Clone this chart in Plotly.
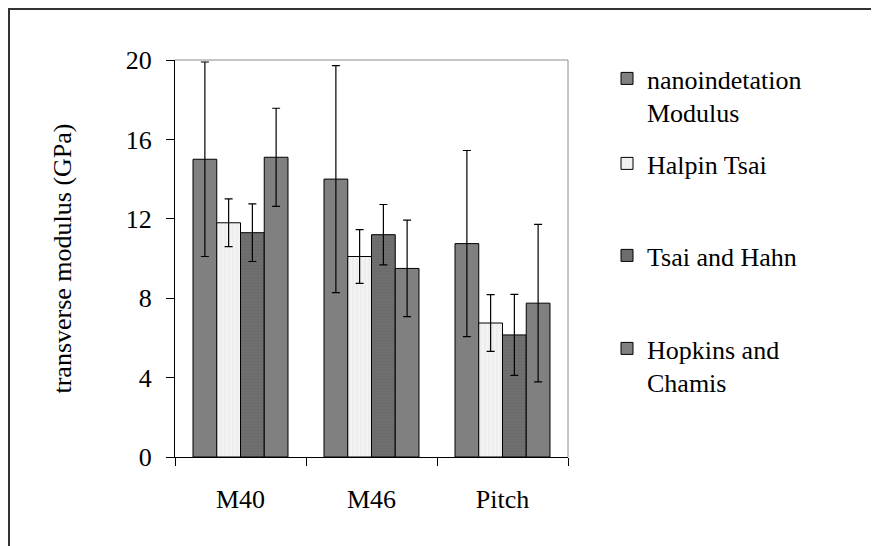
import plotly.graph_objects as go

categories = ["M40", "M46", "Pitch"]
series_names = ["nanoindetation<br>Modulus", "Halpin Tsai", "Tsai and Hahn", "Hopkins and<br>Chamis"]
nano_vals = [15.0, 14.0, 10.75]
nano_err = [4.9, 5.72, 4.69]
halpin_vals = [11.8, 10.1, 6.75]
halpin_err = [1.2, 1.35, 1.43]
tsai_vals = [11.3, 11.2, 6.15]
tsai_err = [1.45, 1.52, 2.04]
hopkins_vals = [15.1, 9.5, 7.75]
hopkins_err = [2.47, 2.43, 3.97]
y_ticks = [0, 4, 8, 12, 16, 20]

FONT = "Liberation Serif"
FS = 26

W, H = 879, 546
OFF = 8  # page body margin
L, R, T, B = 175, 568, 60, 457  # plot area in screen pixels
pw, ph = R - L, B - T


def px_x(x):
    return (x - L) / pw


def px_y(y):
    return (B - y) / ph


styles = [
    dict(color="#808080", pattern=None),
    dict(color="#f3f3f3", pattern=dict(shape="|", fgcolor="#e0e0e0", size=4, solidity=0.3)),
    dict(color="#6f6f6f", pattern=dict(shape="-", fgcolor="#666666", size=3, solidity=0.3)),
    dict(color="#808080", pattern=None),
]
vals = [nano_vals, halpin_vals, tsai_vals, hopkins_vals]
errs = [nano_err, halpin_err, tsai_err, hopkins_err]
legend_ids = ["legend", "legend2", "legend3", "legend4"]
legend_tops = [55, 140, 232, 325]

fig = go.Figure()
for name, v, e, st, lid in zip(series_names, vals, errs, styles, legend_ids):
    marker = dict(color=st["color"], line=dict(color="#000000", width=1))
    if st["pattern"]:
        marker["pattern"] = st["pattern"]
    fig.add_trace(go.Bar(
        x=categories, y=v, name=name, marker=marker, legend=lid,
        error_y=dict(type="data", array=e, visible=True, color="#000000", thickness=1.2, width=4),
    ))

legend_common = dict(
    font=dict(family=FONT, size=FS, color="#000000"),
    bgcolor="rgba(0,0,0,0)", borderwidth=0, xanchor="left", yanchor="top",
    valign="top", itemwidth=30, tracegroupgap=0,
)
layout_legends = {}
for lid, top in zip(legend_ids, legend_tops):
    layout_legends[lid] = dict(legend_common, x=px_x(607), y=px_y(top))

fig.update_layout(
    width=W, height=H,
    margin=dict(l=L - OFF, r=W - (R - OFF), t=T - OFF, b=H - (B - OFF), pad=0),
    paper_bgcolor="white", plot_bgcolor="white",
    barmode="group", bargap=0.275, bargroupgap=0,
    showlegend=True,
    font=dict(family=FONT, size=FS, color="#000000"),
    xaxis=dict(
        type="category", showgrid=False, showline=True, linecolor="#000000", linewidth=1,
        ticks="outside", tickson="boundaries", ticklen=8, tickcolor="#000000",
        tickfont=dict(family=FONT, size=FS), ticklabelstandoff=19, zeroline=False,
    ),
    yaxis=dict(
        range=[0, 20], tickvals=y_ticks, showgrid=False, showline=True,
        linecolor="#000000", linewidth=1, ticks="outside", ticklen=8, tickcolor="#000000",
        tickfont=dict(family=FONT, size=FS), ticklabelstandoff=9, zeroline=False,
        title=dict(text="transverse modulus (GPa)", font=dict(family=FONT, size=FS), standoff=46),
    ),
    shapes=[
        dict(type="line", xref="paper", yref="paper", x0=0, x1=1, y0=1, y1=1,
             line=dict(color="#8c8c8c", width=1), layer="below"),
        dict(type="line", xref="paper", yref="paper", x0=1, x1=1, y0=0, y1=1,
             line=dict(color="#8c8c8c", width=1), layer="below"),
        dict(type="rect", xref="paper", yref="paper", x0=px_x(9), x1=px_x(900),
             y0=px_y(600), y1=px_y(9), line=dict(color="#333333", width=2), layer="below"),
    ],
    **layout_legends,
)

fig.write_html("out.html")
